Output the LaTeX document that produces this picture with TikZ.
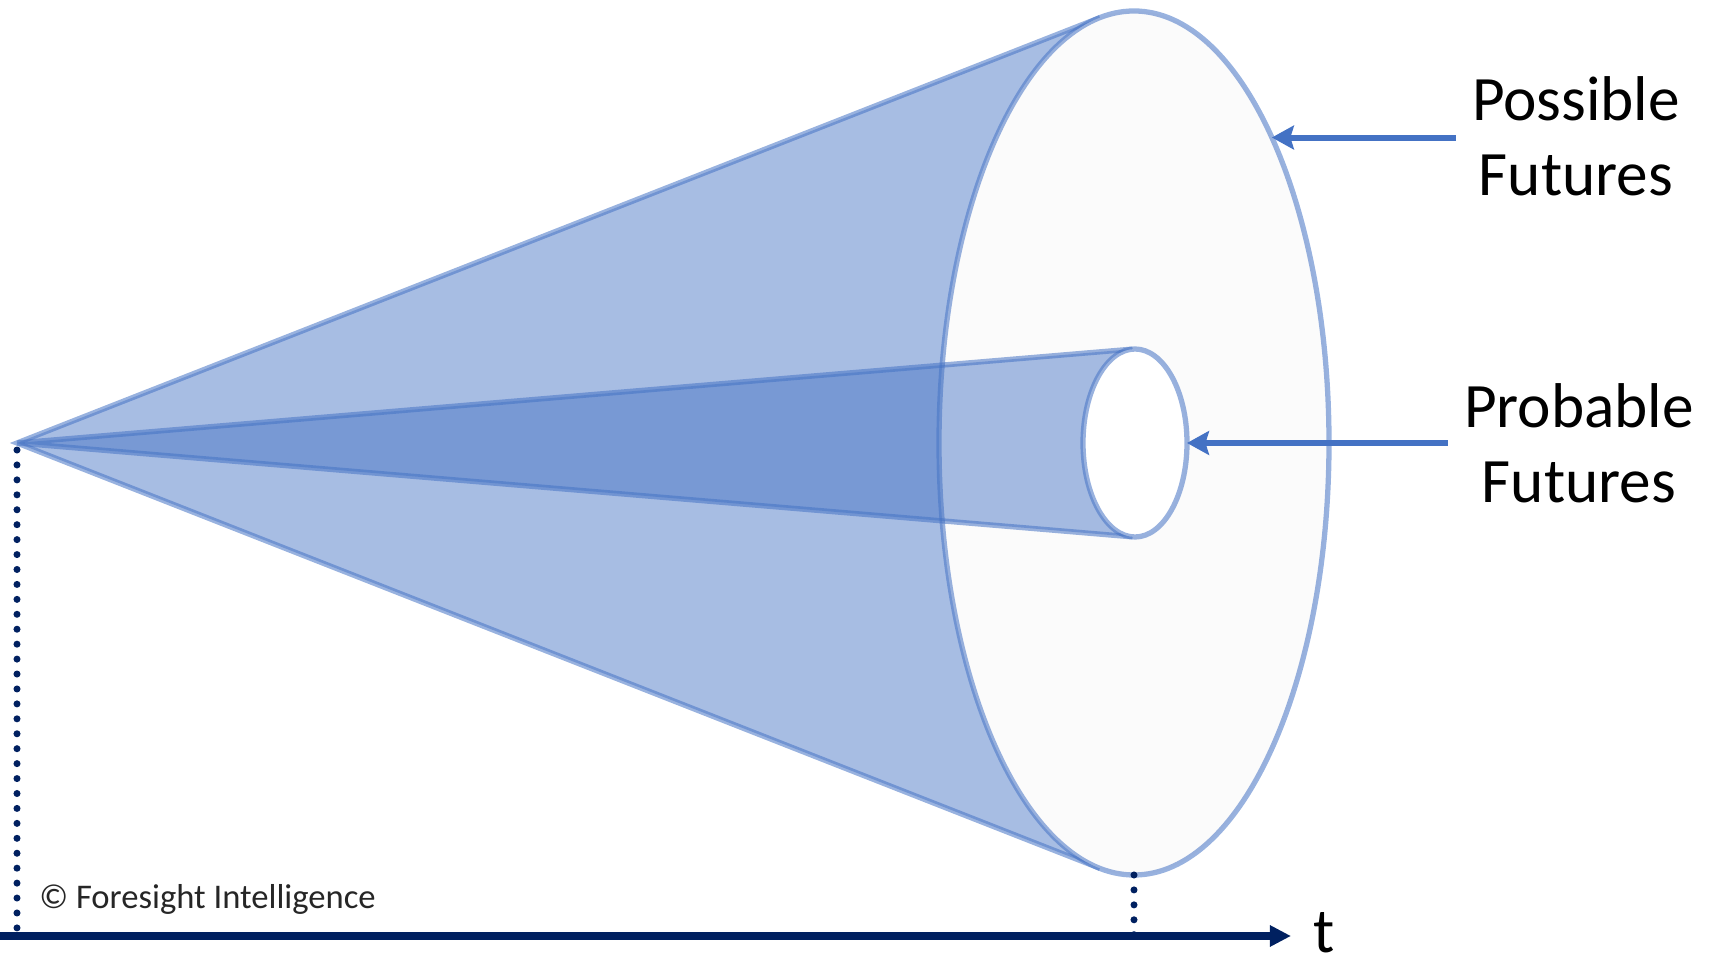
\documentclass[tikz,border=0pt]{standalone}
\usepackage{fontspec}
\setmainfont{Carlito}
\usetikzlibrary{arrows.meta, calc}
\definecolor{cblue}{HTML}{4472C4}
\definecolor{cnavy}{HTML}{002060}
\definecolor{cdisc}{HTML}{FBFBFB}
\tikzset{
  conefill/.style={fill=cblue, fill opacity=0.47},
  rim/.style={draw=cblue, draw opacity=0.55, line width=3pt},
  pointer/.style={-{Stealth[length=12.5pt, width=13.5pt, inset=2pt]}, draw=cblue, line width=3.4pt},
  futurelabel/.style={font=\fontsize{36}{42.7}\selectfont, align=center, inner sep=9pt},
  dotline/.style={cnavy, line width=4pt, line cap=round, dash pattern=on 0pt off 8.5pt},
}

\begin{document}
\begin{tikzpicture}[x=0.02cm, y=0.02cm]
  \useasboundingbox (0,0) rectangle (1711,963);
  \coordinate (A) at (17,520);     % apex, the present
  \coordinate (D) at (1134,520);   % centre of the wide disc
  \coordinate (S) at (1135,520);   % centre of the narrow disc
  \coordinate (O) at (0,27);       % time axis, left end
  \coordinate (E) at (1291,27);    % time axis, tip
  % tangent points seen from the apex
  \coordinate (DT) at ($(D)+(100.06:195 and 432)$);
  \coordinate (DB) at ($(D)+(-100.06:195 and 432)$);
  \coordinate (ST) at ($(S)+(92.67:52 and 94)$);
  \coordinate (SB) at ($(S)+(-92.67:52 and 94)$);
  \coordinate (DS) at ($(D)+(0,-432)$);
  % wide cone
  \fill[conefill] (A) -- (DT) -- (DB) -- cycle;
  \draw[rim] (DT) -- (A) -- (DB);
  \draw[rim, fill=cdisc] (D) ellipse [x radius=195, y radius=432];
  % narrow cone
  \fill[conefill] (A) -- (ST) -- (SB) -- cycle;
  \draw[rim] (ST) -- (A) -- (SB);
  \draw[rim, fill=white] (S) ellipse [x radius=52, y radius=94];
  % labels and pointers
  \coordinate (PT) at ($(D)+(45:195 and 432)$);
  \coordinate (QT) at ($(S)+(52,0)$);
  \node[futurelabel] (poss) at (1576,827) {Possible\\Futures};
  \node[futurelabel] (prob) at (1579,520) {Probable\\Futures};
  \draw[pointer] (poss.west |- PT) -- (PT);
  \draw[pointer] (prob.west |- QT) -- (QT);
  % time axis
  \draw[dotline, dash phase=4.5pt] (A) -- (A |- O);
  \draw[dotline] (DS) -- (DS |- O);
  \draw[-{Triangle[length=12pt, width=11.5pt]}, cnavy, line width=4.5pt] (O) -- (E);
  \node[anchor=base west, inner sep=0pt, font=\fontsize{36}{42.7}\selectfont] (t) at (1313,10) {t};
  \node[anchor=base west, inner sep=0pt, font=\fontsize{19.7}{23}\selectfont, text=black!85] (copy) at (39,54) {© Foresight Intelligence};
\end{tikzpicture}
\end{document}
